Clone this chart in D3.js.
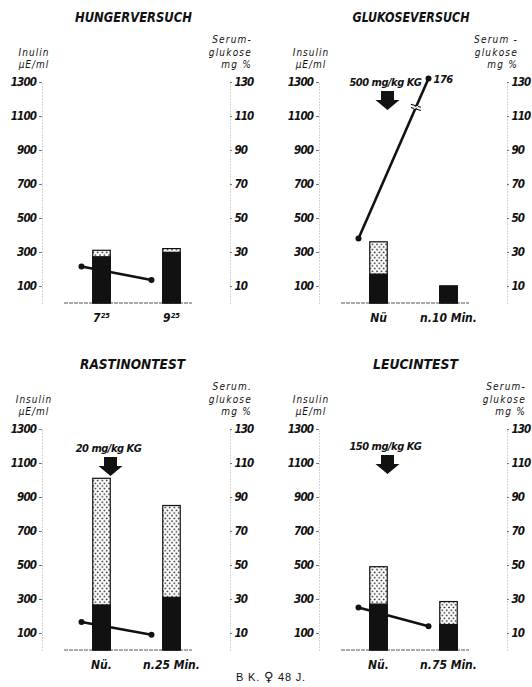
<!DOCTYPE html>
<html><head><meta charset="utf-8">
<script src="https://cdn.jsdelivr.net/npm/d3@7"></script>
<style>body{margin:0;background:#fff}svg{display:block}</style>
</head><body>
<script>
// ---------- data ----------
const titles = ["HUNGERVERSUCH", "GLUKOSEVERSUCH", "RASTINONTEST", "LEUCINTEST"];
const categories = [["7²⁵", "9²⁵"], ["Nü", "n.10 Min."], ["Nü.", "n.25 Min."], ["Nü.", "n.75 Min."]];
const insulinTotal = [[310, 320], [360, 100], [1010, 850], [490, 285]];
const insulinSolid = [[272, 298], [170, 100], [265, 310], [270, 150]];
const glucose = [[21.5, 13.5], [38, 176], [16.5, 9], [25, 14]];
const doses = [null, "500 mg/kg KG", "20 mg/kg KG", "150 mg/kg KG"];
const insulinTitle = [["Inulin", "µE/ml"], ["Insulin", "µE/ml"], ["Insulin", "µE/ml"], ["Insulin", "µE/ml"]];
const glucoseTitle = [["Serum-", "glukose", "mg %"], ["Serum -", "glukose", "mg %"], ["Serum.", "glukose", "mg %"], ["Serum-", "glukose", "mg %"]];
const insulinTicks = [100, 300, 500, 700, 900, 1100, 1300];
const glucoseTicks = [10, 30, 50, 70, 90, 110, 130];
const insulinMax = 1300, glucoseMax = 130;
const glucoseCap = 132; // off-scale values are drawn at the top with a break mark
const subject = ["B K.", "♀", "48 J."];

// ---------- layout ----------
const W = 532, H = 687;
const panelX = [0, 277, 0, 277], panelY = [0, 0, 347, 347];
const leftAxisX = 42, rightAxisX = 230, baseY = 303, topY = 82;
const rightTitleX = [252, 241, 252, 249];
const titleX = [133.5, 134, 132.5, 138.5];
const titleW = [117, 117, 105, 85];
const doseY = [null, 86, 105, 103];
const barW = 17.5;
const FONT = "'DejaVu Sans Condensed', 'DejaVu Sans', sans-serif";

const svg = d3.select("body").append("svg").attr("width", W).attr("height", H);
const defs = svg.append("defs");
const pat = defs.append("pattern").attr("id", "dots").attr("patternUnits", "userSpaceOnUse")
  .attr("width", 4.5).attr("height", 5.4);
pat.append("rect").attr("width", 4.5).attr("height", 5.4).attr("fill", "#fff");
pat.append("circle").attr("cx", 1).attr("cy", 1.3).attr("r", 0.8).attr("fill", "#111");
pat.append("circle").attr("cx", 3.25).attr("cy", 4).attr("r", 0.8).attr("fill", "#111");

const yIns = d3.scaleLinear().domain([0, insulinMax]).range([baseY, topY]);
const yGlu = d3.scaleLinear().domain([0, glucoseMax]).range([baseY, topY]);

titles.forEach((title, p) => {
  const g = svg.append("g").attr("transform", `translate(${panelX[p]},${panelY[p]})`);
  const x = d3.scalePoint().domain(categories[p]).range([leftAxisX + 59.5, leftAxisX + 129.5]);

  // title
  g.append("text").attr("x", titleX[p]).attr("y", 21.5).attr("text-anchor", "middle")
    .attr("font-family", FONT).attr("font-weight", "bold").attr("font-style", "italic")
    .attr("font-size", 14.5).attr("textLength", titleW[p]).attr("lengthAdjust", "spacingAndGlyphs")
    .attr("fill", "#111").text(title);

  // axis titles
  insulinTitle[p].forEach((t, i) => {
    g.append("text").attr("x", 34).attr("y", 56 + i * 12).attr("text-anchor", "middle")
      .attr("font-family", FONT).attr("font-style", "italic").attr("font-size", 10)
      .attr("letter-spacing", 1).attr("fill", "#111").text(t);
  });
  glucoseTitle[p].forEach((t, i) => {
    g.append("text").attr("x", rightTitleX[p]).attr("y", 43 + i * 12.5).attr("text-anchor", "end")
      .attr("font-family", FONT).attr("font-style", "italic").attr("font-size", 10)
      .attr("letter-spacing", 1.2).attr("fill", "#111").text(t);
  });

  // axes
  const la = g.append("g").attr("transform", `translate(${leftAxisX},0)`)
    .call(d3.axisLeft(yIns).tickValues(insulinTicks).tickFormat(d3.format("d"))
      .tickSize(3).tickSizeOuter(0).tickPadding(3));
  const ra = g.append("g").attr("transform", `translate(${rightAxisX},0)`)
    .call(d3.axisRight(yGlu).tickValues(glucoseTicks).tickFormat(d3.format("d"))
      .tickSize(2).tickSizeOuter(0).tickPadding(2.5));
  [la, ra].forEach(a => {
    a.select(".domain").attr("stroke", "#aaa").attr("stroke-dasharray", "1,2");
    a.selectAll(".tick line").attr("stroke", "#777");
    a.selectAll(".tick text").attr("font-family", FONT).attr("font-weight", "bold")
      .attr("font-style", "italic").attr("font-size", 11.5).attr("letter-spacing", -0.9)
      .attr("fill", "#111");
  });

  // baseline
  g.append("line").attr("x1", leftAxisX + 22).attr("x2", rightAxisX - 38)
    .attr("y1", baseY).attr("y2", baseY).attr("stroke", "#555").attr("stroke-dasharray", "4,1");

  // bars
  categories[p].forEach((c, i) => {
    const cx = x(c);
    g.append("rect").attr("x", cx - barW / 2).attr("width", barW)
      .attr("y", yIns(insulinTotal[p][i])).attr("height", baseY - yIns(insulinTotal[p][i]))
      .attr("fill", "url(#dots)").attr("stroke", "#111").attr("stroke-width", 1.2);
    g.append("rect").attr("x", cx - barW / 2).attr("width", barW)
      .attr("y", yIns(insulinSolid[p][i])).attr("height", baseY - yIns(insulinSolid[p][i]))
      .attr("fill", "#111").attr("stroke", "#111").attr("stroke-width", 1.2);
    g.append("text").attr("x", cx).attr("y", baseY + 19).attr("text-anchor", "middle")
      .attr("font-family", FONT).attr("font-weight", "bold").attr("font-style", "italic")
      .attr("font-size", 12).attr("fill", "#111").text(c);
  });

  // glucose line
  const pts = glucose[p].map((v, i) => [x(categories[p][i]) - 20, yGlu(Math.min(v, glucoseCap))]);
  g.append("path").attr("d", d3.line()(pts)).attr("stroke", "#111").attr("stroke-width", 2.6).attr("fill", "none");
  g.selectAll(".pt").data(pts).join("circle").attr("cx", d => d[0]).attr("cy", d => d[1])
    .attr("r", 3).attr("fill", "#111");
  glucose[p].forEach((v, i) => {
    if (v > glucoseMax) {
      const a = pts[i - 1], b = pts[i];
      const t = 0.82;
      const bx = a[0] + (b[0] - a[0]) * t, by = a[1] + (b[1] - a[1]) * t;
      [-1.6, 1.6].forEach(o => {
        g.append("line").attr("x1", bx - 5).attr("x2", bx + 5).attr("y1", by + o - 1.5).attr("y2", by + o + 1.5)
          .attr("stroke", "#111").attr("stroke-width", 1.2);
      });
      g.append("line").attr("x1", bx - 2).attr("x2", bx + 2).attr("y1", by + 1).attr("y2", by - 1)
        .attr("stroke", "#fff").attr("stroke-width", 1.6);
      g.append("text").attr("x", b[0] + 5).attr("y", b[1] + 4).attr("font-family", FONT)
        .attr("font-weight", "bold").attr("font-style", "italic").attr("font-size", 11)
        .attr("letter-spacing", -0.5).attr("fill", "#111").text(v);
    }
  });

  // dose arrow
  if (doses[p]) {
    const ax = x(categories[p][0]) + 9;
    g.append("text").attr("x", ax - 2).attr("y", doseY[p]).attr("text-anchor", "middle")
      .attr("font-family", FONT).attr("font-weight", "bold").attr("font-style", "italic")
      .attr("font-size", 11).attr("letter-spacing", -0.5).attr("fill", "#111").text(doses[p]);
    const t0 = doseY[p] + 5, sh = 6.5, hh = 12, sH = 9, tot = 19;
    const path = d3.path();
    path.moveTo(ax - sh, t0); path.lineTo(ax + sh, t0); path.lineTo(ax + sh, t0 + sH);
    path.lineTo(ax + hh, t0 + sH); path.lineTo(ax, t0 + tot); path.lineTo(ax - hh, t0 + sH);
    path.lineTo(ax - sh, t0 + sH); path.closePath();
    g.append("path").attr("d", path.toString()).attr("fill", "#111");
  }
});

const foot = svg.append("text").attr("x", 271).attr("y", 681).attr("text-anchor", "middle")
  .attr("font-family", "'Liberation Sans', Arial, sans-serif").attr("font-size", 11)
  .attr("letter-spacing", 0.8).attr("fill", "#111");
foot.append("tspan").text(subject[0] + " ");
foot.append("tspan").attr("font-family", "'DejaVu Sans', sans-serif").attr("font-size", 13).text(subject[1]);
foot.append("tspan").text(" " + subject[2]);
</script>
</body></html>
